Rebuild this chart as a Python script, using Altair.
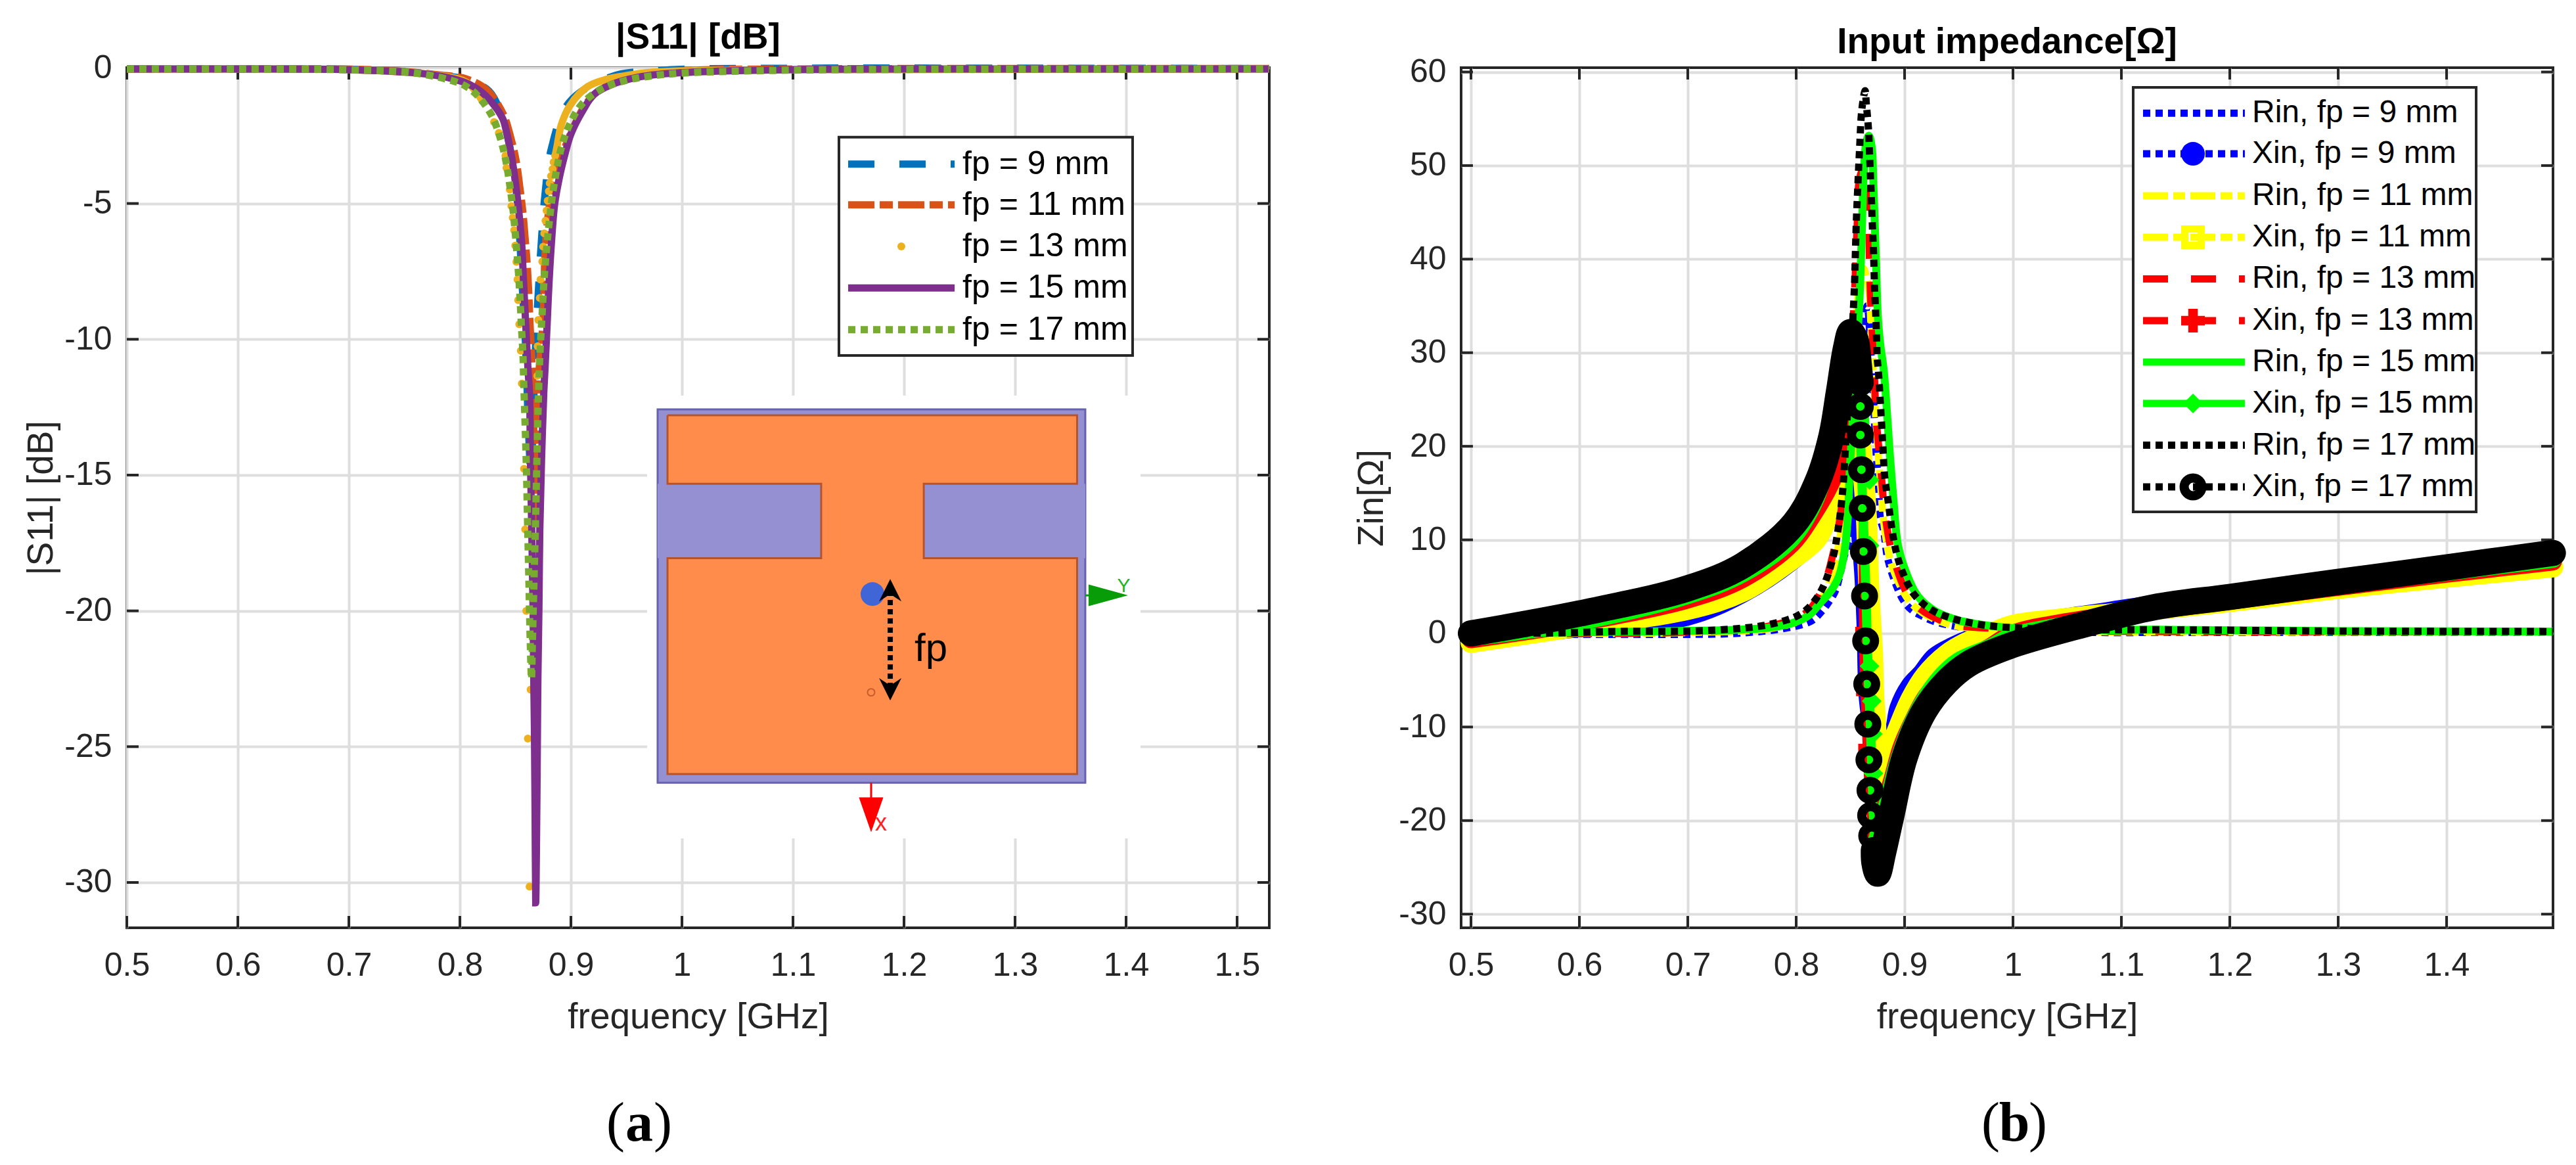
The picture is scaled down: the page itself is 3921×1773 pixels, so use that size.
import altair as alt
import pandas as pd

FONT = "Liberation Sans"
INK = "#262626"
GRID = "#dedede"

# ---------- panel (a): |S11| in dB against frequency in GHz ----------
S11_9 = [(.5,-.05),(.6,-.05),(.7,-.06),(.75,-.14),(.78,-.27),(.8065,-.45),(.8263,-.86),(.8385,-1.87),(.8464,-3.24),(.8519,-5.0),(.8539,-6.3),(.8562,-8.1),(.8588,-9.9),(.8602,-11.4),(.8615,-13),(.864,-15),(.866,-13),(.8683,-10.06),(.8706,-8.28),(.8732,-6.51),(.8766,-4.69),(.8825,-2.96),(.8986,-1.27),(.9357,-.34),(.98,-.1),(1.1,-.02),(1.3,-.02),(1.529,-.03)]
S11_11 = [(.5,-.05),(.6,-.04),(.7,-.05),(.75,-.14),(.78,-.26),(.8065,-.42),(.8243,-.82),(.8391,-1.71),(.846,-2.6),(.8509,-3.48),(.8539,-4.37),(.8568,-5.34),(.8588,-6.3),(.8604,-7.1),(.8618,-8.08),(.8633,-9.53),(.8647,-10.66),(.8657,-11.55),(.868,-16.7),(.8685,-14.4),(.8706,-11.55),(.8746,-9.53),(.8766,-6.95),(.8785,-5.82),(.8835,-4.41),(.9,-2.4),(.92,-1.02),(.95,-.4),(1.0,-.12),(1.1,-.05),(1.3,-.03),(1.529,-.03)]
S11_13_tail_left = [(.5,-.05),(.6,-.05),(.7,-.07),(.78,-.28),(.8065,-.55),(.8203,-1.23)]
S11_13_dots = [(.8203,-1.23),(.8308,-2.0),(.8351,-2.4),(.841,-3.24),(.842,-3.69),(.845,-4.49),(.8464,-5.1),(.8476,-5.52),(.8489,-5.98),(.8499,-6.55),(.8509,-7.15),(.8519,-7.8),(.8525,-8.56),(.8535,-9.45),(.8549,-10.42),(.8558,-11.63),(.8578,-14.77),(.8588,-17),(.8598,-20),(.8637,-22.9),(.8612,-24.7),(.8628,-30.15),
               (.8697,-11.35),(.87,-10.26),(.8706,-9.29),(.872,-8.48),(.8726,-7.8),(.8742,-7.14),(.875,-6.59),(.876,-6.1),(.8771,-5.64),(.8781,-5.26),(.8791,-4.9),(.8801,-4.55),(.8809,-4.25),(.8821,-3.99),(.8835,-3.73),(.8844,-3.48),(.8858,-3.24)]
S11_13_tail_right = [(.8858,-3.24),(.8874,-2.92),(.8913,-2.11),(.8992,-1.39),(.915,-.7),(.9328,-.42),(.9485,-.3),(.9683,-.18),(1.0,-.12),(1.1,-.08),(1.529,-.05)]
S11_15 = [(.5,-.05),(.6,-.05),(.697,-.07),(.75,-.16),(.778,-.28),(.7947,-.42),(.8065,-.58),(.8184,-.86),(.8286,-1.27),(.8385,-1.87),(.8424,-2.44),(.8464,-3.24),(.8489,-3.89),(.8519,-4.85),(.8554,-6.31),(.8574,-7.92),(.8594,-9.53),(.8614,-11.15),(.8627,-11.95),(.8635,-14.37),(.8647,-17),(.8659,-19.9),(.8665,-22.4),(.8671,-24.3),(.8677,-27.3),(.8683,-30.75),(.8693,-27.3),(.8699,-24.3),(.8703,-22.4),(.8712,-19.9),(.872,-17),(.8736,-14.37),(.8756,-11.95),(.8766,-11.15),(.8785,-9.53),(.8803,-7.92),(.8827,-6.31),(.8854,-5.02),(.8896,-4.05),(.8943,-3.24),(.9,-2.44),(.9111,-1.55),(.9209,-.98),(.9367,-.62),(.9525,-.42),(.9683,-.3),(1.0,-.18),(1.098,-.07),(1.25,-.05),(1.529,-.05)]
S11_17 = [(.5,-.05),(.6,-.05),(.7,-.08),(.76,-.2),(.7977,-.54),(.8075,-.74),(.8164,-1.05),(.8288,-1.77),(.8365,-2.61),(.8416,-3.47),(.845,-4.34),(.8478,-5.22),(.8499,-6.1),(.8517,-6.99),(.8533,-7.88),(.8545,-8.77),(.8556,-9.65),(.8568,-10.54),(.8574,-11.43),(.8598,-14.58),(.861,-16.8),(.8622,-19),(.8634,-21.2),(.8645,-22.5),(.8653,-21.2),(.8667,-19),(.8681,-16.8),(.8693,-14.58),(.871,-11.79),(.8722,-10.46),(.874,-9.13),(.8758,-7.82),(.8785,-6.48),(.8807,-5.6),(.8833,-4.72),(.8868,-3.83),(.8913,-2.96),(.8984,-2.13),(.9097,-1.35),(.9272,-.79),(.9485,-.48),(.9699,-.32),(1.0,-.2),(1.1,-.09),(1.25,-.06),(1.529,-.05)]

# ---------- panel (b): input impedance in ohm against frequency in GHz ----------
RIN_9 = [(.5,-.1),(.659,-.1),(.7015,-.1),(.7474,.02),(.7923,.6),(.8136,1.3),(.8237,2.36),(.8304,3.4),(.8364,4.6),(.8445,8.3),(.8515,11),(.857,20),(.861,30),(.8655,35),(.8687,30.3),(.8713,25.1),(.8734,19.9),(.8758,16.1),(.8778,12.2),(.8808,10.9),(.8839,8.3),(.8899,5.9),(.899,3.5),(.9067,2.49),(.9162,1.85),(.9263,1.32),(.9374,.97),(.9485,.73),(.9586,.54),(.99,.3),(1.08,.1),(1.13,.1),(1.498,.15)]
RIN_11 = [(.5,0),(.7,.1),(.78,.6),(.81,1.8),(.825,4),(.8334,6.5),(.8414,11),(.8455,15),(.853,28),(.858,37),(.862,39),(.8667,37),(.869,33),(.873,24),(.8778,16),(.8818,11),(.889,7),(.908,3),(.94,1),(.99,.4),(1.08,.2),(1.498,.2)]
RIN_13 = [(.5,0),(.7,.15),(.78,.9),(.81,2.3),(.825,5),(.8334,8.2),(.8414,13.1),(.8455,19),(.8531,34.5),(.8546,38.4),(.8566,44.5),(.8586,48.7),(.8635,50),(.8667,44.3),(.8677,39.6),(.8685,36.1),(.8697,33.3),(.8717,29),(.8738,23),(.8778,18),(.8818,12.9),(.8899,8),(.9081,3.3),(.9404,1.1),(.99,.5),(1.08,.25),(1.498,.2)]
RIN_15 = [(.5,0),(.6051,.13),(.6836,.25),(.7396,.37),(.7732,.6),(.7956,1.07),(.8113,1.9),(.8225,3.3),(.8324,4.6),(.8394,6.1),(.8445,8.7),(.8475,12.2),(.8495,17.6),(.852,22.5),(.854,27),(.8576,33.8),(.8586,36.1),(.86,40.8),(.8612,45.5),(.8626,49.7),(.8647,52.5),(.8671,53.2),(.8697,52),(.8713,47.8),(.8727,43.1),(.8737,39.6),(.8754,33.8),(.8775,31),(.8808,28.1),(.8839,23.4),(.8859,20),(.8899,14.1),(.894,9.4),(.902,6.35),(.9121,4),(.9283,2.37),(.9485,1.43),(.9687,.97),(.995,.61),(1.07,.35),(1.13,.4),(1.3,.25),(1.498,.2)]
RIN_17 = [(.5,0),(.578,.05),(.6365,.21),(.7026,.25),(.7474,.53),(.7699,.84),(.7911,1.43),(.8012,1.89),(.8102,2.6),(.8181,3.65),(.8237,4.7),(.8281,5.87),(.8344,8.3),(.8384,10.9),(.8414,13.5),(.8435,16.1),(.8455,19.9),(.8525,34),(.854,37.8),(.8546,40.5),(.8556,44.3),(.857,48.1),(.8586,52),(.8606,56),(.8636,58),(.8647,56.6),(.8667,53.9),(.8681,50),(.8691,47.4),(.8703,43.6),(.8713,41),(.8723,37.1),(.8737,33.3),(.8748,29.4),(.8758,28.1),(.8778,24.4),(.8798,20.4),(.8818,16.6),(.8849,14.1),(.8879,11.5),(.8919,8.9),(.8984,6.47),(.9091,4.12),(.9253,2.49),(.9455,1.55),(.9667,1.01),(.9899,.68),(1.07,.4),(1.13,.4),(1.3,.25),(1.498,.2)]
XIN_9 = [(.5,-.7),(.6,.5),(.7,1.75),(.751,4.2),(.7958,7.6),(.818,10),(.833,12.6),(.84,14),(.845,16),(.851,19),(.854,18),(.8565,14),(.8584,11),(.8616,6.1),(.8637,.49),(.8657,-7),(.8717,-11.7),(.8755,-14),(.8815,-13),(.8899,-10.3),(.894,-7.94),(.9041,-5.6),(.9152,-4.19),(.9273,-2.43),(.9445,-1.27),(.9616,-.44),(.9768,.02),(.9889,.37),(1.0293,1.43),(1.0697,2.13),(1.1303,3.18),(1.2,4.1),(1.3,5.4),(1.4,6.6),(1.498,7.5)]
XIN_11 = [(.5,-.96),(.6,.8),(.7,2.56),(.751,4.5),(.7958,7.9),(.818,10),(.8273,12),(.84,16.5),(.85,20),(.857,21),(.861,18),(.8645,13),(.8657,9.39),(.8671,4.71),(.8691,.49),(.8705,-2.3),(.8717,-7),(.8732,-9.34),(.8745,-14),(.878,-17),(.8818,-14),(.8919,-10.86),(.9061,-7),(.9192,-4.54),(.9384,-2.32),(.9566,-1.03),(.9808,.02),(.999,.84),(1.05,1.6),(1.1,2.2),(1.2,3.4),(1.3,4.8),(1.4,6.0),(1.498,7.1)]
XIN_13_LEFT = [(.5,-.6),(.6002,1.2),(.7,3.65),(.751,5.87),(.7958,9.6),(.8136,12.4),(.833,16.4),(.845,21),(.853,25),(.858,24)]
XIN_13_MID = [(.858,24),(.861,15),(.8615,1.5),(.862,-2.55),(.8631,-6.5),(.8651,-12.4),(.8661,-15.2),(.8677,-18.7),(.873,-21.5)]
XIN_13_RIGHT = [(.873,-21.5),(.8889,-15.66),(.897,-12.3),(.9071,-9.6),(.9202,-6.76),(.9364,-4.66),(.9586,-2.79),(.9788,-1.5),(.999,-.09),(1.05,1.2),(1.2,3.5),(1.3,5.0),(1.4,6.4),(1.498,7.7)]
XIN_13_SQUARES = [(.8595,4.2),(.8597,.1),(.8605,-6.1),(.8625,-12.4)]
XIN_15_LEFT = [(.5,-.4),(.6002,1.31),(.7,4.12),(.751,6.46),(.7958,10.2),(.818,14.5),(.827,18),(.84,24),(.851,28),(.8565,26),(.859,22)]
XIN_15_MID = [(.859,22),(.861,15),(.8645,4),(.8655,-.8),(.8667,-5.41),(.8685,-9.69),(.8695,-13.5),(.8705,-16.76),(.8712,-19.45),(.875,-22)]
XIN_15_RIGHT = [(.875,-22),(.885,-18),(.895,-13.5),(.91,-9),(.93,-5.2),(.95,-3),(.98,-1.5),(1.0,-.3),(1.05,.9),(1.1,2.2),(1.2,3.7),(1.3,5.2),(1.4,6.6),(1.498,8)]
XIN_15_DIAMONDS = [(.8677,16.4),(.8677,9.4),(.8677,-3.49),(.8697,-7.23),(.8707,-10.74),(.8713,-14.96)]
XIN_17_LEFT = [(.5,0),(.6002,2.13),(.7,4.82),(.751,7.28),(.798,11.73),(.8203,16.4),(.8326,21.1),(.8394,25.77),(.846,30.5),(.8503,32.2),(.855,31.3),(.8575,29),(.8592,26.8)]
XIN_17_RINGS = [(.8592,26.8),(.8592,24.26),(.8592,21.21),(.8602,17.51),(.861,13.37),(.862,8.76),(.8631,4),(.8641,-.79),(.8651,-5.41),(.8661,-9.69),(.8671,-13.5),(.8681,-16.76),(.8687,-19.45),(.8697,-21.63)]
XIN_17_RIGHT = [(.8717,-23.15),(.8722,-24.5),(.8752,-25.66),(.8802,-23.4),(.8879,-19.4),(.9,-13.3),(.9182,-8.29),(.9384,-5.24),(.9586,-3.3),(.9946,-1.43),(1.0657,.96),(1.1303,2.8),(1.2,3.9),(1.3,5.5),(1.4,7.05),(1.498,8.6)]

X_TICKS_A = [.5,.6,.7,.8,.9,1,1.1,1.2,1.3,1.4,1.5]
Y_TICKS_A = [-30,-25,-20,-15,-10,-5,0]
X_TICKS_B = [.5,.6,.7,.8,.9,1,1.1,1.2,1.3,1.4]
Y_TICKS_B = [-30,-20,-10,0,10,20,30,40,50,60]

WA, HA, WB, HB = 1739, 1309, 1662, 1309
XS_A = alt.Scale(domain=[.5, 1.529], nice=False, zero=False)
YS_A = alt.Scale(domain=[-31.67, 0], nice=False, zero=False)
XS_B = alt.Scale(domain=[.4909, 1.4982], nice=False, zero=False)
YS_B = alt.Scale(domain=[-31.46, 60.46], nice=False, zero=False)


def frame(pts):
    return pd.DataFrame(pts, columns=["f", "v"])


def make_axes(xt, yt, ytitle, ytpad):
    ax = alt.Axis(values=xt, title="frequency [GHz]", labelExpr="''+datum.value", labelFont=FONT, labelFontSize=50, labelColor=INK,
                  titleFont=FONT, titleFontSize=55, titleFontWeight="normal", titleColor=INK, titlePadding=27, labelPadding=32,
                  tickSize=0, domain=False, grid=True, gridColor=GRID, gridWidth=4, labelFlush=False, labelOverlap=False)
    ay = alt.Axis(values=yt, title=ytitle, labelExpr="''+datum.value", labelFont=FONT, labelFontSize=50, labelColor=INK,
                  titleFont=FONT, titleFontSize=55, titleFontWeight="normal", titleColor=INK, titlePadding=ytpad, labelPadding=23,
                  tickSize=0, domain=False, grid=True, gridColor=GRID, gridWidth=4, labelOverlap=False)
    return ax, ay


class Panel:
    def __init__(self, xs, ys, ax, ay):
        self.xs, self.ys, self.ax, self.ay, self.layers = xs, ys, ax, ay, []

    def ex(self, f="f"):
        return alt.X(f"{f}:Q", scale=self.xs, axis=self.ax)

    def ey(self, f="v"):
        return alt.Y(f"{f}:Q", scale=self.ys, axis=self.ay)

    def line(self, pts, color, width=11, dash=None, cap="butt", join="miter", smooth=False):
        kw = dict(color=color, strokeWidth=width, strokeCap=cap, strokeJoin=join, clip=False)
        if dash:
            kw["strokeDash"] = dash
        if smooth:
            kw["interpolate"] = "catmull-rom"
        d = frame(pts)
        d["i"] = range(len(d))
        self.layers.append(alt.Chart(d).mark_line(**kw).encode(x=self.ex(), y=self.ey(), order="i:Q"))

    def band(self, pts, color, width):
        self.line(pts, color, width=width, cap="round", join="round", smooth=True)

    def points(self, pts, shape="circle", size=100, color="black", filled=True, sw=0):
        kw = dict(shape=shape, size=size, filled=filled, opacity=1, strokeWidth=sw, clip=False)
        if filled:
            kw["fill"] = color
            if sw:
                kw["stroke"] = color
        else:
            kw["stroke"] = color
        self.layers.append(alt.Chart(frame(pts)).mark_point(**kw).encode(x=self.ex(), y=self.ey()))

    def rect(self, f0, f1, v0, v1, fill, stroke=None, sw=0):
        kw = dict(fill=fill, strokeWidth=sw)
        if stroke:
            kw["stroke"] = stroke
        d = pd.DataFrame({"a": [f0], "b": [f1], "c": [v0], "d": [v1]})
        self.layers.append(alt.Chart(d).mark_rect(**kw).encode(x=self.ex("a"), x2="b:Q", y=self.ey("c"), y2="d:Q"))

    def text(self, f, v, s, size, color="black", align="left"):
        d = pd.DataFrame({"f": [f], "v": [v], "s": [s]})
        self.layers.append(alt.Chart(d).mark_text(fontSize=size, color=color, align=align, baseline="middle", font=FONT).encode(x=self.ex(), y=self.ey(), text="s:N"))

    def hline(self, f0, f1, v, color, width=11, dash=None):
        self.line([(f0, v), (f1, v)], color, width=width, dash=dash)

    def ticks(self, xt, yt, w, h, ln):
        dx = pd.DataFrame({"t": xt})
        dy = pd.DataFrame({"t": yt})
        for a, b in ((0, ln), (h - ln, h)):
            self.layers.append(alt.Chart(dx).mark_rule(color=INK, strokeWidth=4).encode(x=self.ex("t"), y=alt.value(a), y2=alt.value(b)))
        for a, b in ((0, ln), (w - ln, w)):
            self.layers.append(alt.Chart(dy).mark_rule(color=INK, strokeWidth=4).encode(y=self.ey("t"), x=alt.value(a), x2=alt.value(b)))


def caption(letter, x, y):
    out = []
    for s, dx, weight in (("(", -36, "normal"), (letter, 0, "bold"), (")", 36, "normal")):
        out.append(alt.Chart(pd.DataFrame({"s": [s]})).mark_text(fontSize=84, font="Liberation Serif", color="black", align="center", baseline="middle", fontWeight=weight).encode(
            text="s:N", x=alt.value(x + dx), y=alt.value(y)))
    return out


def panel_title(s):
    return alt.TitleParams(s, font=FONT, fontSize=55, fontWeight="bold", color="black", offset=-8)


# ================= panel (a) =================
AX_A, AY_A = make_axes(X_TICKS_A, Y_TICKS_A, "|S11| [dB]", 6)
A = Panel(XS_A, YS_A, AX_A, AY_A)
A.ticks(X_TICKS_A, Y_TICKS_A, WA, HA, 18)
C9, C11, C13, C15, C17 = "#0072BD", "#D95319", "#EDB120", "#7E2F8E", "#77AC30"
A.line(S11_9, C9, dash=[40, 38], smooth=True)
A.line(S11_11, C11, dash=[40, 8, 20, 8], smooth=True)
A.line(S11_13_tail_left, C13, smooth=True)
A.line(S11_13_tail_right, C13, smooth=True)
A.points(S11_13_dots, size=144, color=C13)
A.line(S11_15, C15, smooth=True)
A.line(S11_17, C17, dash=[11, 8], smooth=True)

# legend (a)
A.rect(1.1414, 1.4059, -2.56, -10.60, "white", INK, 4)
for row, lab, col, dash in zip([-3.55, -5.05, -6.58, -8.11, -9.65],
                               ["fp = 9 mm", "fp = 11 mm", "fp = 13 mm", "fp = 15 mm", "fp = 17 mm"],
                               [C9, C11, C13, C15, C17],
                               [[40, 38], [40, 8, 20, 8], None, None, [11, 8]]):
    if lab == "fp = 13 mm":
        A.points([(1.1976, row)], size=144, color=col)
    else:
        A.hline(1.1497, 1.2456, row, col, dash=dash)
    A.text(1.2527, row, lab, 50)

# antenna inset (a)
PATCH_OUTLINE = [(.987,-12.8),(1.3559,-12.8),(1.3559,-15.32),(1.2178,-15.32),(1.2178,-18.06),(1.3559,-18.06),(1.3559,-26.01),(.987,-26.01),(.987,-18.06),(1.1254,-18.06),(1.1254,-15.32),(.987,-15.32),(.987,-12.8)]
A.rect(.9686, 1.413, -12.07, -28.38, "white")
A.rect(.9781, 1.3633, -12.58, -26.33, "#9490d2", "#6662b0", 3)
A.rect(.987, 1.3559, -12.8, -26.01, "#ff8c4a")
A.rect(.9781, 1.1254, -15.32, -18.06, "#9490d2")
A.rect(1.2178, 1.3633, -15.32, -18.06, "#9490d2")
A.line(PATCH_OUTLINE, "#b5542a", width=3)
A.points([(1.1716, -19.38)], size=1296, color="#3f65d6")
A.points([(1.1704, -23.0)], size=120, color="#c75b2a", filled=False, sw=2)
A.line([(1.1876, -19.26), (1.1876, -22.99)], "black", width=8, dash=[8, 6])
A.points([(1.1876, -19.24)], shape="M0,-1 L1,1 L0,.35 L-1,1 Z", size=1156, color="black")
A.points([(1.1876, -22.89)], shape="M0,1 L1,-1 L0,-.35 L-1,-1 Z", size=1156, color="black")
A.text(1.2095, -21.4, "fp", 60)
A.line([(1.3633, -19.43), (1.373, -19.43)], "#089c08", width=3)
A.points([(1.384, -19.43)], shape="M-1,-.55 L1,0 L-1,.55 Z", size=3600, color="#089c08")
A.text(1.398, -19.09, "Y", 30, color="#22b522", align="center")
A.line([(1.1704, -26.33), (1.1704, -26.88)], "#ff0000", width=3)
A.points([(1.1704, -27.51)], shape="M-.7,-1 L.7,-1 L0,1 Z", size=2809, color="#ff0000")
A.text(1.1793, -27.83, "x", 36, color="#ff2020", align="center")

left = alt.layer(*A.layers, *caption("a", 780, 1608)).properties(width=WA, height=HA, title=panel_title("|S11| [dB]"))

# ================= panel (b) =================
AX_B, AY_B = make_axes(X_TICKS_B, Y_TICKS_B, "Zin[Ω]", 12)
B = Panel(XS_B, YS_B, AX_B, AY_B)
B.ticks(X_TICKS_B, Y_TICKS_B, WB, HB, 18)
BLUE, YEL, RED, GRN, BLK = "#0000ff", "#ffff00", "#ff0000", "#00ff00", "#000000"
B.line(RIN_9, BLUE, dash=[11, 8], smooth=True)
B.band(XIN_9, BLUE, 26)
B.line(RIN_11, YEL, dash=[38, 8, 18, 8], smooth=True)
B.band(XIN_11, YEL, 32)
B.line(RIN_13, RED, dash=[38, 35], smooth=True)
B.band(XIN_13_LEFT, RED, 28)
B.band(XIN_13_MID, RED, 12)
B.band(XIN_13_RIGHT, RED, 28)
B.points(XIN_13_SQUARES, shape="square", size=300, color=RED)
B.line(RIN_15, GRN, width=12, smooth=True)
B.band(XIN_15_LEFT, GRN, 28)
B.band(XIN_15_MID, GRN, 14)
B.band(XIN_15_RIGHT, GRN, 28)
B.points(XIN_15_DIAMONDS, shape="diamond", size=900, color=GRN)
B.line(RIN_17, BLK, dash=[11, 8], smooth=True)
B.band(XIN_17_LEFT, BLK, 40)
B.band(XIN_17_RIGHT, BLK, 40)
B.points(XIN_17_RINGS, size=729, color=BLK, filled=False, sw=14)

# legend (b)
B.rect(1.1109, 1.4273, 58.36, 12.99, "white", INK, 4)
LEG_ROWS = [55.6, 51.26, 46.77, 42.35, 37.89, 33.43, 29.0, 24.58, 20.11, 15.66]
LEG_TXT = ["Rin, fp = 9 mm", "Xin, fp = 9 mm", "Rin, fp = 11 mm", "Xin, fp = 11 mm", "Rin, fp = 13 mm", "Xin, fp = 13 mm", "Rin, fp = 15 mm", "Xin, fp = 15 mm", "Rin, fp = 17 mm", "Xin, fp = 17 mm"]
LEG_COL = [BLUE, BLUE, YEL, YEL, RED, RED, GRN, GRN, BLK, BLK]
LEG_DASH = [[11, 8], [11, 8], [38, 8, 18, 8], [38, 8, 18, 8], [38, 35], [38, 35], None, None, [11, 8], [11, 8]]
for row, lab, col, dash in zip(LEG_ROWS, LEG_TXT, LEG_COL, LEG_DASH):
    B.hline(1.12, 1.2139, row, col, dash=dash)
    B.text(1.2206, row, lab, 48)
B.points([(1.1661, LEG_ROWS[1])], size=1296, color=BLUE)
B.points([(1.1661, LEG_ROWS[3])], shape="square", size=625, color=YEL, filled=False, sw=11)
B.points([(1.1661, LEG_ROWS[5])], shape="cross", size=1300, color=RED)
B.points([(1.1661, LEG_ROWS[7])], shape="diamond", size=900, color=GRN)
B.points([(1.1661, LEG_ROWS[9])], size=729, color=BLK, filled=False, sw=14)

right = alt.layer(*B.layers, *caption("b", 842, 1608)).properties(width=WB, height=HB, title=panel_title("Input impedance[Ω]"))

chart = alt.hconcat(left, right, spacing=292, bounds="flush").properties(
    padding={"left": 25, "top": 20, "right": 0, "bottom": 0}
).configure_view(stroke=INK, strokeWidth=4)

chart.save("out.html", embed_options={"renderer": "svg", "actions": False})
